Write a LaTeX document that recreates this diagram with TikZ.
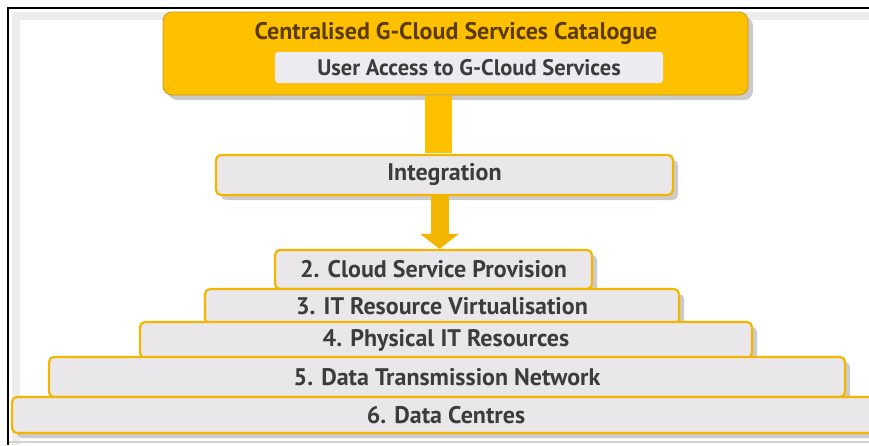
\documentclass[tikz,border=0pt]{standalone}
\usepackage{fontspec}
\setmainfont{PT Sans}
\usetikzlibrary{arrows.meta,shadows}
\definecolor{gyellow}{HTML}{FFC000}
\definecolor{gedge}{HTML}{C99A10}
\definecolor{gborder}{HTML}{F3B600}
\definecolor{gfill}{HTML}{E9E7EA}
\definecolor{gwhite}{HTML}{ECEBF2}
\definecolor{gtext}{HTML}{3C3C3C}
\definecolor{gbrown}{HTML}{5A3C00}
\begin{document}
\begin{tikzpicture}[x=1pt,y=-1pt]

      \useasboundingbox[fill=white] (0,0) rectangle (869,445);
      \draw[gray!14,line width=8pt] (16,445) -- (16,16) -- (869,16);
      \draw[gray!35,line width=2pt] (9,442) -- (869,442);
      \draw[line width=2.5pt] (8,445) -- (8,8) -- (869,8);

      \node[draw=gedge,fill=gyellow,line width=.8pt,rounded corners=9pt,
            minimum width=585pt,minimum height=83pt,
            drop shadow={shadow xshift=5pt,shadow yshift=-5pt,fill=black!40}] (1) at (455.5,53.5) {};
      \node[text=gbrown,font=\fontsize{24}{28}\selectfont\bfseries] (t) at (456,33) {Centralised G-Cloud Services Catalogue};
      \node[fill=gwhite,rounded corners=3pt,minimum width=388pt,minimum height=31pt,
            text=gtext,font=\fontsize{22.5}{26}\selectfont\bfseries] (0) at (469,67.5) {User Access to G-Cloud Services};

      \begin{scope}[every node/.style={draw=gborder,fill=gfill,line width=2.2pt,rounded corners=5pt,
                     text=gtext,font=\fontsize{24}{28}\selectfont\bfseries,
                     drop shadow={shadow xshift=5pt,shadow yshift=-5pt,fill=black!40}}]
        \node[minimum width=457pt,minimum height=40pt] (i) at (444.5,175) {Integration};
        \node[minimum width=317pt,minimum height=39pt] (2) at (433.5,269.5) {2. Cloud Service Provision};
        \node[minimum width=474pt,minimum height=35pt] (3) at (442,306.5) {3. IT Resource Virtualisation};
        \node[minimum width=612pt,minimum height=36pt] (4) at (446,340) {4. Physical IT Resources};
        \node[minimum width=796pt,minimum height=40pt] (5) at (447,377) {5. Data Transmission Network};
        \node[minimum width=868pt,minimum height=36pt] (6) at (446,415) {6. Data Centres};
      \end{scope}

      \path ([xshift=-17pt,yshift=-1pt]1.south) edge[draw=gyellow,line width=27pt] ([xshift=-6pt,yshift=1pt]i.north);
      \path ([xshift=-5pt,yshift=1pt]i.south) edge[draw=gborder,line width=18pt,-{Triangle[width=38pt,length=15pt]}] ([xshift=6pt]2.north);

    \end{tikzpicture}
\end{document}
